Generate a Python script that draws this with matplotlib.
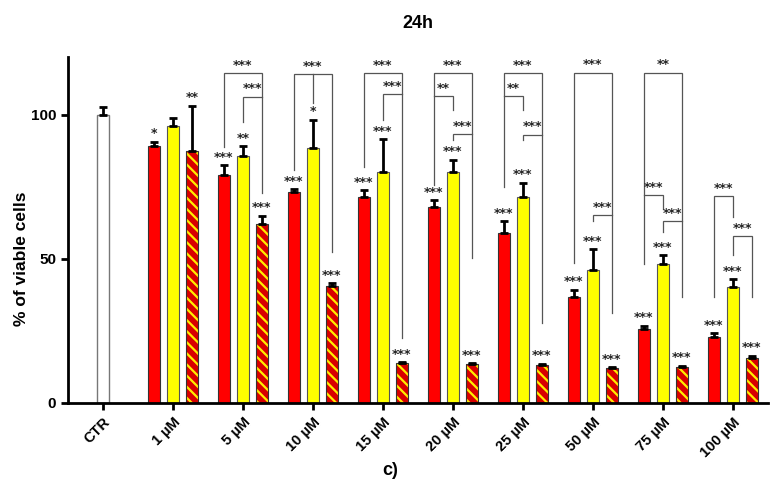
import matplotlib as mpl
import matplotlib.pyplot as plt
import numpy as np

# data
groups = ['CTR', '1 µM', '5 µM', '10 µM', '15 µM', '20 µM', '25 µM',
          '50 µM', '75 µM', '100 µM']
ctr_mean = 100.0
ctr_err = 2.9
red_mean = [89.2, 79.2, 73.1, 71.4, 68.2, 59.1, 36.9, 25.8, 23.0]
red_err = [1.5, 3.3, 1.1, 2.5, 2.3, 4.1, 2.5, 1.1, 1.2]
yellow_mean = [96.3, 85.9, 88.7, 80.3, 80.3, 71.6, 46.2, 48.4, 40.4]
yellow_err = [2.7, 3.3, 9.6, 11.2, 4.1, 4.9, 7.2, 3.0, 2.5]
striped_mean = [87.5, 62.2, 40.7, 13.8, 13.5, 13.2, 12.0, 12.6, 15.7]
striped_err = [15.7, 2.8, 0.9, 0.4, 0.4, 0.4, 0.5, 0.4, 0.7]

red_stars = ['*', '***', '***', '***', '***', '***', '***', '***', '***']
yellow_stars = ['', '**', '*', '***', '***', '***', '***', '***', '***']
striped_stars = ['**', '***', '***', '***', '***', '***', '***', '***', '***']

# comparisons: (group, bar_a, bar_b, height, left leg end, right leg end, label)
# bars: 0 red, 1 yellow, 2 striped
brackets = [
    (2, 0, 2, 114.5, 89.0, 73.0, '***'),
    (2, 1, 2, 106.4, 97.7, 106.4, '***'),
    (3, 0, 2, 114.2, 80.9, 52.5, '***'),
    (4, 0, 2, 114.5, 82.0, 22.5, '***'),
    (4, 1, 2, 107.2, 98.3, 107.2, '***'),
    (5, 0, 2, 114.5, 75.7, 50.3, '***'),
    (5, 0, 1, 106.6, 106.6, 101.7, '**'),
    (5, 1, 2, 93.4, 91.3, 93.4, '***'),
    (6, 0, 2, 114.5, 75.1, 27.8, '***'),
    (6, 0, 1, 106.6, 106.6, 101.7, '**'),
    (6, 1, 2, 93.2, 91.3, 93.2, '***'),
    (7, 0, 2, 114.7, 48.5, 31.1, '***'),
    (7, 1, 2, 65.3, 63.3, 65.3, '***'),
    (8, 0, 2, 114.7, 48.3, 36.7, '**'),
    (8, 0, 1, 72.3, 72.3, 67.2, '***'),
    (8, 1, 2, 63.3, 59.5, 63.3, '***'),
    (9, 0, 1, 71.9, 36.7, 64.7, '***'),
    (9, 1, 2, 58.0, 51.4, 36.7, '***'),
]
# extra middle tick in the 10 µM bracket
middle_ticks = [(3, 114.2, 104.3)]

mpl.rc('font', family='Liberation Sans')
mpl.rcParams['hatch.linewidth'] = 1.6

fig = plt.figure(figsize=(7.81, 4.93), dpi=100)
ax = fig.add_axes([0.087, 0.1826, 0.896, 0.701])

offset = 0.27
width = 0.17
x_conc = np.arange(1, len(groups))
xs = [x_conc - offset, x_conc, x_conc + offset]

err_kw = dict(fmt='none', ecolor='black', elinewidth=2, capsize=3,
              capthick=2, zorder=3)

# CTR
ax.bar([0], [ctr_mean], width, color='white', edgecolor='#777777',
       linewidth=1, zorder=2)
ax.errorbar([0], [ctr_mean], yerr=[[0], [ctr_err]], **err_kw)

# red and yellow
ax.bar(xs[0], red_mean, width, color='#FF0000', edgecolor='#333333',
       linewidth=0.8, zorder=2)
ax.errorbar(xs[0], red_mean, yerr=[np.zeros(9), red_err], **err_kw)
ax.bar(xs[1], yellow_mean, width, color='#FFFF00', edgecolor='#555555',
       linewidth=0.8, zorder=2)
ax.errorbar(xs[1], yellow_mean, yerr=[np.zeros(9), yellow_err], **err_kw)

# striped red/yellow
ax.bar(xs[2], striped_mean, width, color='#D80000', edgecolor='#FFEE00',
       hatch='\\\\\\', linewidth=0, zorder=2)
ax.bar(xs[2], striped_mean, width, fill=False, edgecolor='#333333',
       linewidth=0.8, zorder=2)
ax.errorbar(xs[2], striped_mean, yerr=[np.zeros(9), striped_err], **err_kw)

# stars above bars
star_kw = dict(ha='center', va='bottom', fontsize=9, fontweight='bold',
               color='#222222', family='DejaVu Sans', zorder=4)
for k, (means, errs, stars) in enumerate([(red_mean, red_err, red_stars),
                                          (yellow_mean, yellow_err, yellow_stars),
                                          (striped_mean, striped_err, striped_stars)]):
    for i in range(9):
        if stars[i]:
            ax.text(xs[k][i], means[i] + errs[i] + 0.5, stars[i], **star_kw)

# comparison brackets
for g, a, b, h, yl, yr, lab in brackets:
    xa = g + (a - 1) * offset
    xb = g + (b - 1) * offset
    ax.plot([xa, xa, xb, xb], [yl, h, h, yr], color='#555555', lw=0.9,
            zorder=1, solid_joinstyle='miter')
    ax.text((xa + xb) / 2, h + 0.4, lab, **star_kw)
for g, h, ye in middle_ticks:
    ax.plot([g, g], [h, ye], color='#555555', lw=0.9, zorder=1)

ax.set_xlim(-0.5, 9.5)
ax.set_ylim(0, 120)
ax.set_yticks([0, 50, 100])
ax.set_xticks(np.arange(len(groups)))
ax.set_xticklabels(groups, rotation=45, ha='right', rotation_mode='anchor',
                   fontsize=10.5, fontweight='bold')
for t in ax.get_yticklabels():
    t.set_fontsize(11)
    t.set_fontweight('bold')

ax.spines['top'].set_visible(False)
ax.spines['right'].set_visible(False)
ax.spines['left'].set_linewidth(2)
ax.spines['bottom'].set_linewidth(2)
ax.tick_params(axis='both', width=2, length=5, direction='out')

ax.set_ylabel('% of viable cells', fontsize=12.5, fontweight='bold')
# label centred on the 0-100 range, as in the original
ax.yaxis.set_label_coords(-0.055, 100 / 120 / 2)
ax.set_title('24h', fontsize=13, fontweight='bold', pad=21)
fig.text(0.5, 0.045, 'c)', ha='center', va='center', fontsize=13,
         fontweight='bold')

plt.savefig('out.png', dpi=100)
plt.close(fig)
